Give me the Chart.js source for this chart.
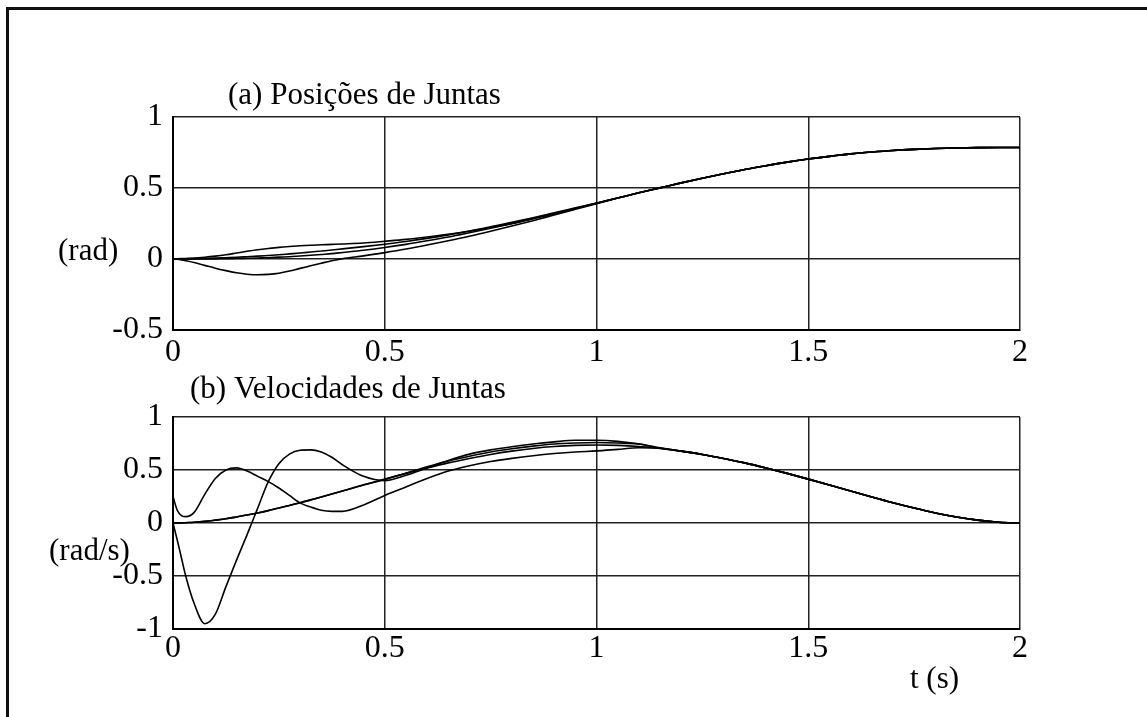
<!DOCTYPE html>
<html>
<head>
<meta charset="utf-8">
<script src="https://cdn.jsdelivr.net/npm/chart.js@4.4.1/dist/chart.umd.min.js"></script>
<style>
  body { margin: 0; background: #fff; width: 1147px; height: 717px; overflow: hidden; position: relative; }
  canvas { position: absolute; left: 0; }
  #graf_pos { top: 0; }
  #graf_vel { top: 365px; }
  #moldura { position: absolute; left: 6px; top: 7px; width: 1150px; height: 720px;
             border-left: 3px solid #111; border-top: 3px solid #111; }
</style>
</head>
<body>
<div id="moldura"></div>
<canvas id="graf_pos" width="1147" height="365"></canvas>
<canvas id="graf_vel" width="1147" height="352"></canvas>
<script>
// tempo (s) - mais denso no inicio onde as curvas mudam rapido
const tempo = [0,0.01,0.02,0.03,0.05,0.075,0.1,0.125,0.15,0.175,0.2,0.225,0.25,0.275,0.3,0.325,0.35,0.375,0.4,
  0.45,0.5,0.55,0.6,0.65,0.7,0.75,0.8,0.85,0.9,0.95,1,
  1.05,1.1,1.15,1.2,1.25,1.3,1.35,1.4,1.45,1.5,1.55,1.6,1.65,1.7,1.75,1.8,1.85,1.9,1.95,2];

// (a) posicoes (rad)
const posJunta1 = [0,0,0,0,0,0,0.001,0.002,0.003,0.005,0.007,0.009,0.013,0.016,0.021,0.026,0.032,0.038,0.046,
  0.062,0.081,0.103,0.128,0.155,0.185,0.216,0.249,0.284,0.319,0.356,0.393,
  0.429,0.466,0.501,0.536,0.569,0.600,0.630,0.657,0.682,0.704,0.723,0.740,0.753,0.764,0.772,0.778,0.782,0.784,0.785,0.785];
const posJunta2 = [0,-0.002,-0.006,-0.012,-0.025,-0.045,-0.065,-0.082,-0.097,-0.107,-0.111,-0.108,-0.1,-0.085,-0.066,-0.048,-0.03,-0.012,0.002,
  0.022,0.045,0.07,0.098,0.128,0.16,0.195,0.232,0.27,0.31,0.35,0.39,
  0.429,0.466,0.501,0.536,0.569,0.600,0.630,0.657,0.682,0.704,0.723,0.740,0.753,0.764,0.772,0.778,0.782,0.784,0.785,0.785];
const posJunta3 = [0,0.002,0.003,0.004,0.006,0.012,0.02,0.03,0.042,0.054,0.065,0.074,0.082,0.088,0.093,0.097,0.1,0.103,0.106,
  0.113,0.125,0.138,0.155,0.174,0.196,0.222,0.25,0.283,0.318,0.356,0.393,
  0.429,0.466,0.501,0.536,0.569,0.600,0.630,0.657,0.682,0.704,0.723,0.740,0.753,0.764,0.772,0.778,0.782,0.784,0.785,0.785];
const posJunta4 = [0,0,0,0.001,0.002,0.004,0.006,0.009,0.012,0.016,0.02,0.025,0.03,0.036,0.042,0.049,0.056,0.063,0.071,
  0.087,0.104,0.123,0.145,0.17,0.197,0.226,0.258,0.291,0.325,0.36,0.395,
  0.429,0.466,0.501,0.536,0.569,0.600,0.630,0.657,0.682,0.704,0.723,0.740,0.753,0.764,0.772,0.778,0.782,0.784,0.785,0.785];

// (b) velocidades (rad/s)
const velJunta1 = [0,-0.16,-0.33,-0.5,-0.76,-0.95,-0.86,-0.6,-0.35,-0.11,0.14,0.39,0.56,0.65,0.686,0.69,0.67,0.62,0.55,
  0.44,0.40,0.45,0.52,0.59,0.65,0.69,0.72,0.745,0.765,0.78,0.78,
  0.77,0.745,0.705,0.678,0.647,0.609,0.567,0.519,0.468,0.414,0.358,0.301,0.245,0.191,0.141,0.095,0.057,0.027,0.007,0];
const velJunta2 = [0.25,0.12,0.07,0.06,0.1,0.27,0.42,0.5,0.52,0.49,0.44,0.39,0.33,0.26,0.19,0.15,0.12,0.11,0.11,
  0.17,0.26,0.34,0.42,0.49,0.54,0.58,0.61,0.635,0.655,0.67,0.68,
  0.695,0.71,0.705,0.678,0.647,0.609,0.567,0.519,0.468,0.414,0.358,0.301,0.245,0.191,0.141,0.095,0.057,0.027,0.007,0];
const velJunta3 = [0,0,0.001,0.003,0.007,0.015,0.027,0.04,0.057,0.075,0.095,0.117,0.141,0.166,0.191,0.218,0.245,0.273,0.301,
  0.358,0.414,0.468,0.519,0.567,0.609,0.647,0.678,0.703,0.721,0.732,0.736,
  0.732,0.721,0.703,0.678,0.647,0.609,0.567,0.519,0.468,0.414,0.358,0.301,0.245,0.191,0.141,0.095,0.057,0.027,0.007,0];
const velJunta4 = [0,0,0.001,0.003,0.007,0.015,0.027,0.04,0.057,0.075,0.095,0.117,0.141,0.166,0.191,0.218,0.245,0.273,0.301,
  0.36,0.41,0.47,0.53,0.585,0.63,0.67,0.70,0.725,0.745,0.755,0.76,
  0.755,0.745,0.71,0.678,0.647,0.609,0.567,0.519,0.468,0.414,0.358,0.301,0.245,0.191,0.141,0.095,0.057,0.027,0.007,0];

// ticks
const ticksX = [0, 0.5, 1, 1.5, 2];
const ticksPos = [-0.5, 0, 0.5, 1];
const ticksVel = [-1, -0.5, 0, 0.5, 1];

const FONTE = 'Liberation Serif';

// textos soltos (titulos e unidades)
const textosPlugin = {
  id: 'textos',
  afterDraw(chart, args, opts) {
    const ctx = chart.ctx;
    ctx.save();
    ctx.fillStyle = '#000';
    ctx.font = '31px "' + FONTE + '"';
    ctx.textBaseline = 'alphabetic';
    ctx.textAlign = 'left';
    opts.itens.forEach(it => ctx.fillText(it.texto, it.x, it.y));
    ctx.restore();
  }
};

function serie(valores) {
  return {
    data: tempo.map((t, i) => ({ x: t, y: valores[i] })),
    borderColor: '#000',
    borderWidth: 1.6,
    pointRadius: 0,
    cubicInterpolationMode: 'monotone',
    fill: false
  };
}

function criar_grafico(id, series, ticksY, alturaX, padTop, padLabelX, textos) {
  const el = document.getElementById(id).getContext('2d');
  return new Chart(el, {
    type: 'line',
    data: { datasets: series.map(serie) },
    plugins: [textosPlugin],
    options: {
      responsive: false,
      animation: false,
      devicePixelRatio: 1,
      layout: { padding: { top: padTop, right: 127, bottom: 0, left: 0 } },
      plugins: {
        legend: { display: false },
        tooltip: { enabled: false },
        textos: { itens: textos }
      },
      scales: {
        x: {
          type: 'linear',
          min: 0, max: 2,
          afterBuildTicks: s => { s.ticks = ticksX.map(v => ({ value: v })); },
          afterFit: s => { s.height = alturaX; },
          grid: { color: '#222', lineWidth: 1.5, drawTicks: false },
          border: { color: '#000', width: 2 },
          ticks: { color: '#000', font: { family: FONTE, size: 32 }, padding: padLabelX,
                   maxRotation: 0, autoSkip: false, callback: v => String(v) }
        },
        y: {
          type: 'linear',
          min: ticksY[0], max: ticksY[ticksY.length - 1],
          afterBuildTicks: s => { s.ticks = ticksY.map(v => ({ value: v })); },
          afterFit: s => { s.width = 173; },
          grid: { color: '#222', lineWidth: 1.5, drawTicks: false },
          border: { color: '#000', width: 2 },
          ticks: { color: '#000', font: { family: FONTE, size: 32 }, padding: 10,
                   autoSkip: false, callback: v => String(v) }
        }
      }
    }
  });
}

criar_grafico('graf_pos', [posJunta1, posJunta2, posJunta3, posJunta4], ticksPos, 35, 117, 3, [
  { texto: '(a) Posições de Juntas', x: 228, y: 104 },
  { texto: '(rad)', x: 58, y: 260 }
]);

criar_grafico('graf_vel', [velJunta1, velJunta2, velJunta3, velJunta4], ticksVel, 88, 52, 0, [
  { texto: '(b) Velocidades de Juntas', x: 190, y: 33 },
  { texto: '(rad/s)', x: 49, y: 195 },
  { texto: 't (s)', x: 910, y: 323 }
]);
</script>
</body>
</html>
